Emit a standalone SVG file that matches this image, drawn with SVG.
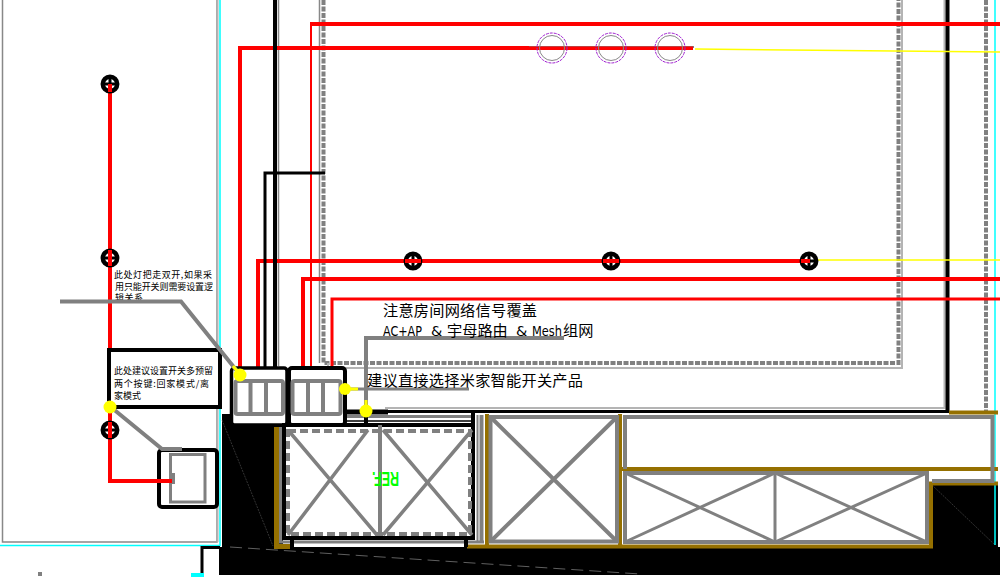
<svg xmlns="http://www.w3.org/2000/svg" width="1000" height="577" viewBox="0 0 1000 577">
<style>
.red{fill:none;stroke:#ff0000;stroke-width:4}
.red2{fill:none;stroke:#ff0000;stroke-width:2}
.red3{fill:none;stroke:#ff0000;stroke-width:3}
.blk{fill:none;stroke:#000;stroke-width:4}
.blk3{fill:none;stroke:#000;stroke-width:3}
.blk1{fill:none;stroke:#000;stroke-width:1.5}
.gry{fill:none;stroke:#808080;stroke-width:4}
.gr3{fill:none;stroke:#808080;stroke-width:3}
.gr2{fill:none;stroke:#808080;stroke-width:2}
.gr1{fill:none;stroke:#888;stroke-width:1.5}
.lgt{fill:none;stroke:#b4b4b4;stroke-width:2}
.dsh{fill:none;stroke:#808080;stroke-width:4;stroke-dasharray:5 1.5}
.dsl{fill:none;stroke:#808080;stroke-width:4;stroke-dasharray:8 4}
.brn{fill:none;stroke:#957000;stroke-width:4}
.cy{fill:none;stroke:#00ffff;stroke-width:1.5}
.yel{fill:#ffff00;stroke:none}
.ysk{fill:none;stroke:#ffff00;stroke-width:3}
.ylw{fill:none;stroke:#ffff00;stroke-width:1.5}
.pur{fill:none;stroke:#a020d0;stroke-width:1;stroke-dasharray:3 1}
.lmp{fill:none;stroke:#888;stroke-width:1}
.hair{fill:none;stroke:#555;stroke-width:.6;stroke-dasharray:2 1}
.arc{fill:none;stroke:#888;stroke-width:.7;stroke-dasharray:12 6}
.sm{font-family:"Noto Sans CJK SC","Noto Sans CJK JP",sans-serif;font-size:9px;fill:#000}
.md{font-family:"Noto Sans CJK SC","Noto Sans CJK JP",sans-serif;font-size:15.2px;fill:#000}
.lt{font-family:"DejaVu Sans",sans-serif;font-size:14.500px}
</style>
<rect width="1000" height="577" fill="#fff"/>
<g id="background">
<path d="M2.500 0V542H217V0" class="gr1"/>
<path d="M217.500 0V542" class="lgt"/>
<path d="M220 0V545.500H0M220 545.500H201" class="cy"/>
<path d="M222 414H283V547H222Z" fill="#000"/>
<path d="M219 547H1000V575H219Z" fill="#000"/>
<path d="M932 485H998V547H932Z" fill="#000"/>
<path d="M202 574V547.500H220" class="blk3"/>
<rect x="191" y="573" width="13" height="4" fill="#00ffff"/>
<rect x="38" y="572" width="4" height="4" fill="#808080"/>
<path d="M222 420L273 546M932 485L995 545" class="hair"/>
<path d="M230 547L640 574" class="arc"/>
<path d="M995 0V545" class="cy"/>
</g>
<g id="walls">
<path d="M278.500 0V366" class="gr1"/>
<path d="M319.500 0V363" class="gr1"/>
<path d="M323.500 0V363H898.500V0" class="dsh"/>
<path d="M902 0V368H328V363" class="lgt"/>
<path d="M944.500 0V408H385" class="lgt"/>
<path d="M947.500 0V412" class="blk"/>
<path d="M386 411.500H949" class="blk3"/>
<path d="M986 0V412" class="dsh"/>
</g>
<g id="cabinets">
<path d="M276.500 427V546.500H290" class="brn" style="stroke-width:5"/>
<path d="M467 546.500H931V483.500H998M487 414V546M620 414V546M620 469H998M949 412.500H998" class="brn"/>
<path d="M280.500 427V542H484" class="gr3"/>
<path d="M481.500 415V542" class="gry"/>
<path d="M477.500 415V542" class="gr2"/>
<rect x="490.500" y="417" width="126.500" height="124.500" class="gry"/>
<path d="M490.500 417L617 541.500M617 417L490.500 541.500" class="gry"/>
<path d="M625 469V417H992.500V481H932" class="gry"/>
<rect x="625" y="473" width="302" height="69" class="gry"/>
<path d="M775 473V542" class="gr3"/>
<path d="M625 473L775 542M775 473L625 542M775 473L927 542M927 473L775 542" class="gr3"/>
</g>
<g id="wiring">
<path d="M110 85V481H172" class="red"/>
<path d="M240 368V48H693" class="red"/>
<path d="M311 367V24" class="red2"/>
<path d="M310 24H1000" class="red"/>
<path d="M258 368V261H810" class="red"/>
<path d="M303 367V279H1000" class="red"/>
<path d="M332 367V299H1000" class="red3"/>
<path d="M695 49L1000 52M810 260H1000" class="ylw"/>
<path d="M275 0V368" class="blk"/>
<path d="M265 368V173H325" class="blk3"/>
<path d="M529 47H694" class="gr2"/>
<path d="M529 48H693" class="red3"/>
</g>
<g id="lamp-1"><circle cx="552" cy="48" r="15" class="pur"/><circle cx="552" cy="48" r="12.500" class="lmp"/></g>
<g id="lamp-2"><circle cx="611" cy="48" r="15" class="pur"/><circle cx="611" cy="48" r="12.500" class="lmp"/></g>
<g id="lamp-3"><circle cx="670" cy="48" r="15" class="pur"/><circle cx="670" cy="48" r="12.500" class="lmp"/></g>
<defs>
<g id="spot"><circle r="7.200" fill="#fff" stroke="#000" stroke-width="4.500"/><path d="M-8 0H8" stroke="#000" stroke-width="3"/><path d="M0 -8V8" stroke="#000" stroke-width="3"/></g>
</defs>
<g id="spot-1"><use href="#spot" x="110" y="84"/></g>
<g id="spot-2"><use href="#spot" x="110" y="258"/></g>
<g id="spot-3"><use href="#spot" x="110" y="430"/></g>
<g id="spot-4"><use href="#spot" x="413" y="261"/></g>
<g id="spot-5"><use href="#spot" x="611" y="261"/></g>
<g id="spot-6"><use href="#spot" x="809" y="261"/></g>
<path d="M110 84V92M110 250V266M110 422V438M405 261H421M603 261H619M801 261H810" class="red"/>
<g id="note-light">
<text class="sm" x="114" y="277.500" textLength="98" lengthAdjust="spacing">此处灯把走双开,如果采</text>
<text class="sm" x="115" y="289.500" textLength="98" lengthAdjust="spacing">用只能开关则需要设置逻</text>
<text class="sm" x="115" y="301" textLength="28" lengthAdjust="spacing">辑关系</text>
</g>
<g id="note-scene">
<rect x="109" y="350" width="111" height="57" fill="#fff" stroke="#000" stroke-width="4"/>
<text class="sm" x="114" y="373.500" textLength="99" lengthAdjust="spacing">此处建议设置开关多预留</text>
<text class="sm" x="114" y="386.500" textLength="95" lengthAdjust="spacing">两个按键:回家模式/离</text>
<text class="sm" x="114" y="398.500" textLength="27" lengthAdjust="spacing">家模式</text>
</g>
<g id="switch-left">
<rect x="159" y="450" width="58" height="57" rx="3" fill="#fff" stroke="#000" stroke-width="4"/>
<rect x="170.500" y="454.500" width="34.500" height="47.500" class="gr3"/>
<rect x="170" y="473" width="5" height="11" fill="#808080"/>
<path d="M110 481H172" class="red"/>
</g>
<g id="switch-a">
<rect x="231.500" y="368" width="55.500" height="57" rx="3" fill="#fff" stroke="#000" stroke-width="3.500"/>
<rect x="235.500" y="381" width="47.500" height="33" rx="2" class="gry"/>
<path d="M250.500 381V414M266 381V414" class="gry"/>
</g>
<g id="switch-b">
<rect x="289" y="368" width="56" height="57" rx="3" fill="#fff" stroke="#000" stroke-width="4"/>
<rect x="292.500" y="381" width="48" height="33" rx="2" class="gry"/>
<path d="M308 381V414M323 381V414" class="gry"/>
</g>
<g id="cabinet-main">
<path d="M347 412H388" class="blk" style="stroke-width:5"/>
<path d="M347 416.500H473" class="gr3"/>
<path d="M347 421H473" class="blk1"/>
<path d="M366 416V425" class="blk"/>
<rect x="284" y="425" width="189" height="113" fill="#fff" stroke="#000" stroke-width="4"/>
<path d="M473 412V425" class="blk"/>
<path d="M292 538V547M466 538V547" class="blk"/>
<rect x="288" y="431" width="182" height="103" class="dsl"/>
<path d="M380 425V536" class="gry"/>
<path d="M288 430L377 535M368 430L288 535M383 430L472 535M472 430L383 535" class="gry" style="stroke-width:3.500"/>
<text x="399" y="472" transform="rotate(180 399 472)" font-family="Liberation Sans,sans-serif" font-weight="700" font-size="20" fill="#00ff00" textLength="27" lengthAdjust="spacingAndGlyphs">REF.</text>
</g>
<g id="leaders">
<path d="M60 301.500H181L237 371" class="gry"/>
<path d="M112 408L162 449H182" class="gry"/>
<path d="M350 389H469" class="gr3"/>
<path d="M366 405V338H564" class="gry"/>
<path d="M350 389H358M366 400V408" class="ysk"/>
<path d="M233 366L238 372" class="ysk"/>
<circle class="yel" cx="240" cy="375" r="6.500"/>
<circle class="yel" cx="110" cy="407" r="6.500"/>
<circle class="yel" cx="345" cy="389" r="6"/>
<circle class="yel" cx="366" cy="411" r="6.500"/>
</g>
<g id="notes-main">
<text class="md" x="383" y="316" textLength="154">注意房间网络信号覆盖</text>
<text class="md" y="336"><tspan class="lt" x="383" textLength="39" lengthAdjust="spacingAndGlyphs">AC+AP</tspan><tspan class="lt" x="431">&amp;</tspan><tspan x="447">宇母路由</tspan><tspan class="lt" x="516">&amp;</tspan><tspan class="lt" x="532" textLength="30" lengthAdjust="spacingAndGlyphs">Mesh</tspan><tspan x="563">组网</tspan></text>
<text class="md" x="367" y="386" textLength="216">建议直接选择米家智能开关产品</text>
</g>
</svg>
